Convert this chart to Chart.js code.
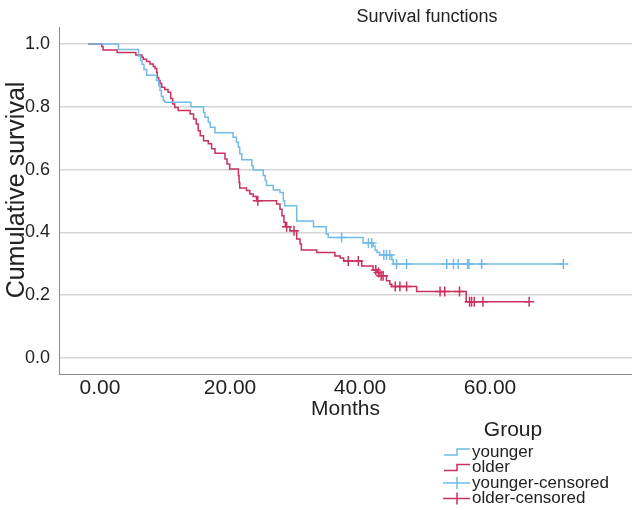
<!DOCTYPE html>
<html>
<head>
<meta charset="utf-8">
<script src="https://cdn.jsdelivr.net/npm/chart.js@4.4.0/dist/chart.umd.min.js"></script>
<style>
  body { margin: 0; background: #fff; }
  #wrap { width: 632px; height: 510px; }
</style>
</head>
<body>
<div id="wrap"><canvas id="km" width="632" height="510"></canvas></div>
<script>
// Kaplan-Meier steps: month of each drop and survival after it
const youngerMonths = [-1.8, 2.84, 5.94, 6.25, 6.45, 6.76, 7.17, 8.72, 9.03, 9.23, 9.44, 9.75, 9.96, 13.98, 15.93, 16.14, 16.66, 16.97, 17.69,
  20.47, 20.99, 21.29, 21.5, 21.81, 23.36, 23.56, 25.11, 25.42, 25.62, 26.66, 27.69, 28.2, 28.41, 30.26, 32.84, 34.8, 35.11,
  40.47, 42.01, 42.32, 42.63, 43.04, 44.9, 45.11, 71.29];
const youngerSurv = [1, 0.982, 0.962, 0.947, 0.935, 0.919, 0.900, 0.884, 0.868, 0.852, 0.833, 0.820, 0.814, 0.800, 0.782, 0.767, 0.751, 0.735, 0.717,
  0.703, 0.687, 0.671, 0.650, 0.631, 0.612, 0.599, 0.581, 0.565, 0.549, 0.535, 0.527, 0.501, 0.485, 0.436, 0.418, 0.395, 0.384,
  0.366, 0.357, 0.343, 0.336, 0.328, 0.312, 0.299, 0.299];
const youngerCensored = [37.17, 41.29, 41.81, 43.66, 44.08, 44.59, 45.62, 47.17, 53.35, 54.38, 55.11, 56.55, 56.75, 58.71, 71.29];

const olderMonths = [-1.8, 0.27, 0.47, 2.64, 5.52, 6.45, 6.66, 7.17, 7.69, 8.2, 8.46, 8.72, 8.82, 9.03, 9.23, 9.49, 9.96, 10.47, 10.88, 11.19, 11.5, 12.02,
  13.87, 14.39, 14.8, 15.11, 15.42, 15.93, 16.66, 17.17, 17.69, 19.23, 19.54, 19.95, 21.29, 21.4, 21.5, 22.53, 23.05, 23.56, 24.08,
  27.17, 27.69, 28.0, 28.3, 28.51, 29.23, 30.26, 30.78, 30.98, 33.36, 36.14, 36.96, 37.48, 40.26, 42.01, 42.63, 42.94, 44.08, 44.59, 44.9,
  48.71, 56.34, 66.03];
const olderSurv = [1, 0.992, 0.981, 0.973, 0.965, 0.958, 0.951, 0.944, 0.936, 0.928, 0.922, 0.909, 0.893, 0.884, 0.874, 0.862, 0.855, 0.846, 0.826, 0.809, 0.798, 0.788,
  0.777, 0.761, 0.745, 0.724, 0.708, 0.692, 0.682, 0.666, 0.652, 0.634, 0.618, 0.602, 0.581, 0.559, 0.541, 0.533, 0.522, 0.514, 0.501,
  0.490, 0.474, 0.453, 0.432, 0.418, 0.405, 0.379, 0.363, 0.344, 0.336, 0.325, 0.318, 0.309, 0.293, 0.280, 0.272, 0.262, 0.246, 0.235, 0.228,
  0.212, 0.179, 0.179];
const olderCensored = [24.28, 28.72, 29.85, 38.2, 39.75, 42.43, 42.84, 43.25, 43.56, 45.42, 46.14, 47.17, 52.32, 53.04, 55.31, 56.86, 57.17, 57.58, 58.92, 66.03];

const yTicks = [0, 0.2, 0.4, 0.6, 0.8, 1.0];
const xTicks = [0, 20, 40, 60];
const legendLabels = ['younger', 'older', 'younger-censored', 'older-censored'];

const BLUE = '#72bbe8';
const RED = '#c8325c';
const FONT = "'Liberation Sans', Arial, sans-serif";

function survAt(months, surv, t) {
  let s = surv[0];
  for (let i = 0; i < months.length; i++) {
    if (months[i] <= t) s = surv[i];
  }
  return s;
}

function toPoints(xs, ys) {
  return xs.map((x, i) => ({ x: x, y: ys[i] }));
}

function censorPoints(cens, months, surv) {
  return cens.map(t => ({ x: t, y: survAt(months, surv, t) }));
}

// chart title and y title sit off-centre in the original, so draw them by hand
const titlePlugin = {
  id: 'sideTitle',
  afterDraw(chart) {
    const c = chart.ctx;
    c.save();
    c.fillStyle = '#222';
    c.font = '18px ' + FONT;
    c.textAlign = 'center';
    c.textBaseline = 'middle';
    c.fillText('Survival functions', 427, 17);
    c.translate(17, 190);
    c.rotate(-Math.PI / 2);
    c.font = '25px ' + FONT;
    c.fillText('Cumulative survival', 0, 0);
    c.restore();
  }
};

const legendPlugin = {
  id: 'groupLegend',
  afterDraw(chart) {
    const c = chart.ctx;
    const colors = [BLUE, RED, BLUE, RED];
    c.save();
    c.fillStyle = '#222';
    c.textBaseline = 'middle';
    c.textAlign = 'center';
    c.font = '21px ' + FONT;
    c.fillText('Group', 513, 430);
    c.font = '17px ' + FONT;
    c.textAlign = 'left';
    legendLabels.forEach((lab, i) => {
      const y = 452 + i * 15.5;
      c.strokeStyle = colors[i];
      c.lineWidth = 1.5;
      c.beginPath();
      if (i < 2) {
        c.moveTo(444, y + 3);
        c.lineTo(457, y + 3);
        c.lineTo(457, y - 3);
        c.lineTo(470, y - 3);
      } else {
        c.moveTo(443, y);
        c.lineTo(470, y);
        c.moveTo(457, y - 6);
        c.lineTo(457, y + 6);
      }
      c.stroke();
      c.fillStyle = '#222';
      c.fillText(lab, 472, y);
    });
    c.restore();
  }
};

new Chart(document.getElementById('km'), {
  type: 'line',
  data: {
    datasets: [
      {
        label: 'younger',
        data: toPoints(youngerMonths, youngerSurv),
        borderColor: BLUE, borderWidth: 1.5, stepped: true, pointRadius: 0, fill: false
      },
      {
        label: 'older',
        data: toPoints(olderMonths, olderSurv),
        borderColor: RED, borderWidth: 1.5, stepped: true, pointRadius: 0, fill: false
      },
      {
        label: 'younger-censored',
        type: 'scatter',
        data: censorPoints(youngerCensored, youngerMonths, youngerSurv),
        borderColor: BLUE, backgroundColor: BLUE, pointStyle: 'cross', pointRadius: 5, pointBorderWidth: 1.5, showLine: false
      },
      {
        label: 'older-censored',
        type: 'scatter',
        data: censorPoints(olderCensored, olderMonths, olderSurv),
        borderColor: RED, backgroundColor: RED, pointStyle: 'cross', pointRadius: 5, pointBorderWidth: 1.5, showLine: false
      }
    ]
  },
  options: {
    responsive: false,
    animation: false,
    layout: { autoPadding: false, padding: { top: 27, right: 0, bottom: 86, left: 0 } },
    plugins: {
      legend: { display: false },
      title: { display: false },
      tooltip: { enabled: false }
    },
    scales: {
      x: {
        type: 'linear',
        min: -6.31,
        max: 81.85,
        afterBuildTicks: s => { s.ticks = xTicks.map(v => ({ value: v })); },
        afterFit: s => { s.height = 50; },
        grid: { display: false, drawTicks: false },
        border: { display: true, color: '#8c8c8c', width: 1 },
        ticks: {
          padding: 2,
          color: '#222',
          font: { family: FONT, size: 21 },
          callback: v => Number(v).toFixed(2)
        },
        title: {
          display: true,
          text: 'Months',
          color: '#222',
          font: { family: FONT, size: 21 },
          padding: { top: 0, bottom: 2.5 }
        }
      },
      y: {
        min: -0.051,
        max: 1.054,
        afterBuildTicks: s => { s.ticks = yTicks.map(v => ({ value: v })); },
        afterFit: s => { s.width = 59; },
        grid: { color: '#d6d6d6', lineWidth: 1.5, drawTicks: false },
        border: { display: true, color: '#8c8c8c', width: 1 },
        ticks: {
          padding: 9,
          color: '#222',
          font: { family: FONT, size: 18 },
          callback: v => Number(v).toFixed(1)
        }
      }
    }
  },
  plugins: [titlePlugin, legendPlugin]
});
</script>
</body>
</html>
